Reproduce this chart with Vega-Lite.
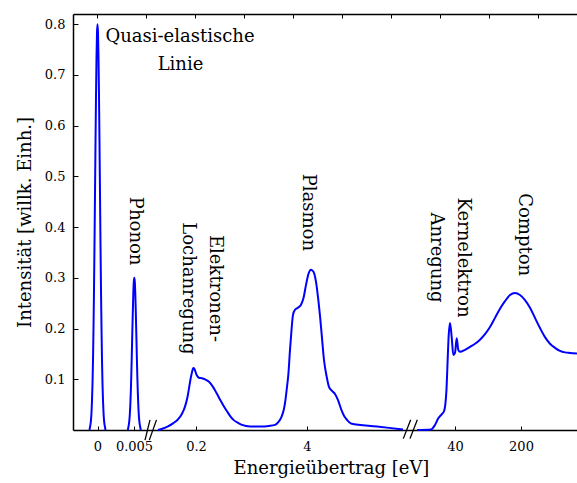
{
  "$schema": "https://vega.github.io/schema/vega-lite/v6.json",
  "width": 504,
  "height": 416,
  "autosize": {"type": "none"},
  "padding": {"left": 73, "top": 14, "right": 0, "bottom": 53},
  "background": "white",
  "config": {
    "view": {"stroke": null},
    "axis": {
      "grid": false,
      "domainColor": "black",
      "domainWidth": 1.5,
      "tickColor": "black",
      "tickWidth": 1,
      "labelFont": "DejaVu Serif",
      "titleFont": "DejaVu Serif",
      "labelFontSize": 13,
      "titleFontSize": 18,
      "labelColor": "black",
      "titleColor": "black",
      "titleFontWeight": "normal"
    }
  },
  "resolve": {"axis": {"x": "independent"}},
  "layer": [
    {
      "data": {"values": [
        {"e": -7.5, "i": 0, "s": 1}, {"e": -7, "i": 0.006, "s": 1}, {"e": -6.5, "i": 0.011, "s": 1}, {"e": -6, "i": 0.02, "s": 1},
        {"e": -5.5, "i": 0.035, "s": 1}, {"e": -5, "i": 0.058, "s": 1}, {"e": -4.5, "i": 0.091, "s": 1}, {"e": -4, "i": 0.138, "s": 1},
        {"e": -3.5, "i": 0.2, "s": 1}, {"e": -3, "i": 0.276, "s": 1}, {"e": -2.5, "i": 0.366, "s": 1}, {"e": -2, "i": 0.465, "s": 1},
        {"e": -1.5, "i": 0.565, "s": 1}, {"e": -1, "i": 0.658, "s": 1}, {"e": -0.5, "i": 0.734, "s": 1}, {"e": 0, "i": 0.783, "s": 1},
        {"e": 0.5, "i": 0.8, "s": 1}, {"e": 1, "i": 0.783, "s": 1}, {"e": 1.5, "i": 0.734, "s": 1}, {"e": 2, "i": 0.658, "s": 1},
        {"e": 2.5, "i": 0.565, "s": 1}, {"e": 3, "i": 0.465, "s": 1}, {"e": 3.5, "i": 0.366, "s": 1}, {"e": 4, "i": 0.276, "s": 1},
        {"e": 4.5, "i": 0.2, "s": 1}, {"e": 5, "i": 0.138, "s": 1}, {"e": 5.5, "i": 0.091, "s": 1}, {"e": 6, "i": 0.058, "s": 1},
        {"e": 6.5, "i": 0.035, "s": 1}, {"e": 7, "i": 0.02, "s": 1}, {"e": 7.5, "i": 0.011, "s": 1}, {"e": 8, "i": 0.006, "s": 1},
        {"e": 8.5, "i": 0, "s": 1},
        {"e": 30.8, "i": 0, "s": 2}, {"e": 31.3, "i": 0.005, "s": 2}, {"e": 31.8, "i": 0.01, "s": 2}, {"e": 32.3, "i": 0.018, "s": 2},
        {"e": 32.8, "i": 0.03, "s": 2}, {"e": 33.3, "i": 0.049, "s": 2}, {"e": 33.8, "i": 0.075, "s": 2}, {"e": 34.3, "i": 0.108, "s": 2},
        {"e": 34.8, "i": 0.148, "s": 2}, {"e": 35.3, "i": 0.191, "s": 2}, {"e": 35.8, "i": 0.232, "s": 2}, {"e": 36.3, "i": 0.268, "s": 2},
        {"e": 36.8, "i": 0.292, "s": 2}, {"e": 37.3, "i": 0.3, "s": 2}, {"e": 37.8, "i": 0.292, "s": 2}, {"e": 38.3, "i": 0.268, "s": 2},
        {"e": 38.8, "i": 0.232, "s": 2}, {"e": 39.3, "i": 0.191, "s": 2}, {"e": 39.8, "i": 0.148, "s": 2}, {"e": 40.3, "i": 0.108, "s": 2},
        {"e": 40.8, "i": 0.075, "s": 2}, {"e": 41.3, "i": 0.049, "s": 2}, {"e": 41.8, "i": 0.03, "s": 2}, {"e": 42.3, "i": 0.018, "s": 2},
        {"e": 42.8, "i": 0.01, "s": 2}, {"e": 43.3, "i": 0.005, "s": 2}, {"e": 43.8, "i": 0, "s": 2},
        {"e": 61, "i": 0, "s": 3}, {"e": 66, "i": 0.003, "s": 3}, {"e": 71, "i": 0.007, "s": 3}, {"e": 76, "i": 0.013, "s": 3},
        {"e": 81, "i": 0.021, "s": 3}, {"e": 85, "i": 0.032, "s": 3}, {"e": 88, "i": 0.046, "s": 3}, {"e": 90.5, "i": 0.065, "s": 3},
        {"e": 92, "i": 0.082, "s": 3}, {"e": 93.5, "i": 0.1, "s": 3}, {"e": 95, "i": 0.114, "s": 3}, {"e": 96.3, "i": 0.122, "s": 3},
        {"e": 97.5, "i": 0.12, "s": 3}, {"e": 99.5, "i": 0.109, "s": 3}, {"e": 102, "i": 0.103, "s": 3}, {"e": 105, "i": 0.102, "s": 3},
        {"e": 109, "i": 0.099, "s": 3}, {"e": 112, "i": 0.095, "s": 3}, {"e": 116, "i": 0.085, "s": 3}, {"e": 119.5, "i": 0.073, "s": 3},
        {"e": 123, "i": 0.06, "s": 3}, {"e": 126.5, "i": 0.048, "s": 3}, {"e": 130, "i": 0.037, "s": 3}, {"e": 133, "i": 0.028, "s": 3},
        {"e": 136.5, "i": 0.02, "s": 3}, {"e": 141, "i": 0.014, "s": 3}, {"e": 145, "i": 0.01, "s": 3}, {"e": 153, "i": 0.007, "s": 3},
        {"e": 163, "i": 0.007, "s": 3}, {"e": 172, "i": 0.008, "s": 3}, {"e": 178, "i": 0.01, "s": 3}, {"e": 181.5, "i": 0.016, "s": 3},
        {"e": 184.5, "i": 0.026, "s": 3}, {"e": 187, "i": 0.042, "s": 3}, {"e": 188.5, "i": 0.06, "s": 3}, {"e": 190, "i": 0.085, "s": 3},
        {"e": 191.3, "i": 0.108, "s": 3}, {"e": 193, "i": 0.158, "s": 3}, {"e": 194.5, "i": 0.197, "s": 3}, {"e": 196, "i": 0.227, "s": 3},
        {"e": 198, "i": 0.237, "s": 3}, {"e": 201, "i": 0.241, "s": 3}, {"e": 204, "i": 0.247, "s": 3}, {"e": 206.5, "i": 0.26, "s": 3},
        {"e": 209, "i": 0.286, "s": 3}, {"e": 211.5, "i": 0.308, "s": 3}, {"e": 214, "i": 0.316, "s": 3}, {"e": 216.5, "i": 0.312, "s": 3},
        {"e": 219, "i": 0.292, "s": 3}, {"e": 221, "i": 0.262, "s": 3}, {"e": 223, "i": 0.225, "s": 3}, {"e": 225, "i": 0.181, "s": 3},
        {"e": 227, "i": 0.138, "s": 3}, {"e": 229.5, "i": 0.107, "s": 3}, {"e": 232, "i": 0.085, "s": 3}, {"e": 235, "i": 0.077, "s": 3},
        {"e": 238, "i": 0.071, "s": 3}, {"e": 241, "i": 0.059, "s": 3}, {"e": 244.5, "i": 0.039, "s": 3}, {"e": 247, "i": 0.028, "s": 3},
        {"e": 250, "i": 0.02, "s": 3}, {"e": 254, "i": 0.013, "s": 3}, {"e": 280, "i": 0.007, "s": 3}, {"e": 306, "i": 0.001, "s": 3},
        {"e": 320, "i": 0, "s": 4}, {"e": 334, "i": 0.001, "s": 4}, {"e": 338, "i": 0.01, "s": 4}, {"e": 341.3, "i": 0.023, "s": 4},
        {"e": 344.7, "i": 0.031, "s": 4}, {"e": 347, "i": 0.037, "s": 4}, {"e": 348.3, "i": 0.05, "s": 4}, {"e": 349.5, "i": 0.08, "s": 4},
        {"e": 350.5, "i": 0.13, "s": 4}, {"e": 351.5, "i": 0.18, "s": 4}, {"e": 353, "i": 0.211, "s": 4}, {"e": 354.7, "i": 0.183, "s": 4},
        {"e": 356.3, "i": 0.148, "s": 4}, {"e": 358, "i": 0.152, "s": 4}, {"e": 359.7, "i": 0.181, "s": 4}, {"e": 361.3, "i": 0.158, "s": 4},
        {"e": 363, "i": 0.154, "s": 4}, {"e": 368, "i": 0.158, "s": 4}, {"e": 373, "i": 0.164, "s": 4}, {"e": 378, "i": 0.17, "s": 4},
        {"e": 383, "i": 0.178, "s": 4}, {"e": 388, "i": 0.189, "s": 4}, {"e": 393, "i": 0.203, "s": 4}, {"e": 398, "i": 0.221, "s": 4},
        {"e": 403, "i": 0.239, "s": 4}, {"e": 408, "i": 0.254, "s": 4}, {"e": 413, "i": 0.266, "s": 4}, {"e": 418, "i": 0.27, "s": 4},
        {"e": 423, "i": 0.266, "s": 4}, {"e": 428, "i": 0.256, "s": 4}, {"e": 433, "i": 0.241, "s": 4}, {"e": 438, "i": 0.221, "s": 4},
        {"e": 443, "i": 0.201, "s": 4}, {"e": 448, "i": 0.183, "s": 4}, {"e": 453, "i": 0.17, "s": 4}, {"e": 458, "i": 0.162, "s": 4},
        {"e": 463, "i": 0.156, "s": 4}, {"e": 468, "i": 0.153, "s": 4}, {"e": 473, "i": 0.152, "s": 4}, {"e": 480, "i": 0.151, "s": 4}
      ]},
      "mark": {"type": "line", "color": "#0000ff", "strokeWidth": 2, "interpolate": "monotone"},
      "encoding": {
        "x": {
          "field": "e", "type": "quantitative",
          "scale": {"domain": [-24, 480], "nice": false, "zero": false},
          "axis": {
            "orient": "bottom",
            "title": "Energieübertrag [eV]",
            "values": [0.5, 37, 99, 210, 358, 424],
            "labelExpr": "datum.value < 1 ? '0' : datum.value < 40 ? '0.005' : datum.value < 100 ? '0.2' : datum.value < 300 ? '4' : datum.value < 400 ? '40' : '200'",
            "labelFont": "DejaVu Serif",
            "labelFontSize": 13,
            "tickSize": -4,
            "labelPadding": 14,
            "labelFlush": false,
            "labelOverlap": false,
            "titleBaseline": "alphabetic",
            "titleAnchor": "middle",
            "titleX": 258,
            "titleY": 43
          }
        },
        "y": {
          "field": "i", "type": "quantitative",
          "scale": {"domain": [0, 0.82], "nice": false},
          "axis": {
            "title": "Intensität [willk. Einh.]",
            "values": [0.1, 0.2, 0.3, 0.4, 0.5, 0.6, 0.7, 0.8],
            "format": ".1f",
            "labelFont": "DejaVu Serif",
            "labelFontSize": 13,
            "tickSize": -5,
            "labelPadding": 13,
            "labelFlush": false,
            "titleAngle": -90,
            "titleBaseline": "alphabetic",
            "titleAlign": "center",
            "titleX": -43,
            "titleY": 208
          }
        },
        "detail": {"field": "s", "type": "nominal"}
      }
    },
    {
      "data": {"values": [
        {"x1": 48, "y1": -0.02, "x2": 53, "y2": 0.02},
        {"x1": 52.3, "y1": -0.02, "x2": 59.5, "y2": 0.02},
        {"x1": 306.3, "y1": -0.017, "x2": 313.7, "y2": 0.02},
        {"x1": 313, "y1": -0.017, "x2": 320.3, "y2": 0.02}
      ]},
      "mark": {"type": "rule", "color": "black", "strokeWidth": 1.3},
      "encoding": {
        "x": {
          "field": "x1", "type": "quantitative",
          "scale": {"domain": [-24, 480], "nice": false, "zero": false},
          "axis": {"orient": "top", "title": null, "labels": false, "tickSize": -4, "values": [0, 49, 98, 147, 196, 245, 294, 343, 392, 441]}
        },
        "x2": {"field": "x2"},
        "y": {"field": "y1", "type": "quantitative", "scale": {"domain": [0, 0.82], "nice": false}},
        "y2": {"field": "y2"}
      }
    },
    {
      "data": {"values": [
        {"t": "Quasi-elastische", "x": 83, "y": 0.765, "a": 0},
        {"t": "Linie", "x": 83.5, "y": 0.71, "a": 0},
        {"t": "Phonon", "x": 33, "y": 0.392, "a": 90},
        {"t": "Lochanregung", "x": 86, "y": 0.279, "a": 90},
        {"t": "Elektronen-", "x": 113, "y": 0.279, "a": 90},
        {"t": "Plasmon", "x": 206, "y": 0.429, "a": 90},
        {"t": "Anregung", "x": 334, "y": 0.34, "a": 90},
        {"t": "Kernelektron", "x": 361, "y": 0.34, "a": 90},
        {"t": "Compton", "x": 422, "y": 0.385, "a": 90}
      ]},
      "mark": {"type": "text", "font": "DejaVu Serif", "fontSize": 18, "color": "black", "align": "center", "baseline": "alphabetic"},
      "encoding": {
        "x": {"field": "x", "type": "quantitative", "scale": {"domain": [-24, 480], "nice": false, "zero": false}, "axis": null},
        "y": {"field": "y", "type": "quantitative", "scale": {"domain": [0, 0.82], "nice": false}},
        "text": {"field": "t"},
        "angle": {"field": "a", "type": "quantitative", "scale": null}
      }
    }
  ]
}
